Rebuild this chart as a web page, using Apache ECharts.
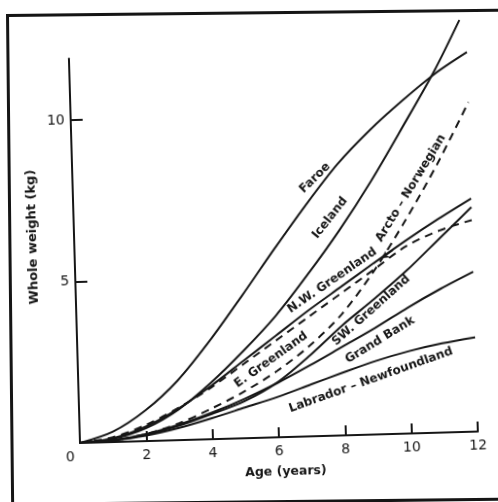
<!DOCTYPE html>
<html>
<head>
<meta charset="utf-8">
<script src="https://cdn.jsdelivr.net/npm/echarts@6/dist/echarts.min.js"></script>
<style>
  html, body { margin: 0; padding: 0; background: #fff; }
  #wrap { position: relative; width: 498px; height: 502px; overflow: hidden; background: #fff; }
  #frame { position: absolute; left: 6px; top: 14px; width: 540px; height: 492px;
           border: 3px solid #151515; box-sizing: border-box;
           transform-origin: 0 0; transform: rotate(-0.6deg); }
  #chart { position: absolute; left: 0; top: 0; width: 498px; height: 502px;
           transform-origin: 80px 443px; transform: rotate(-1.65deg); }
</style>
</head>
<body>
<div id="wrap"><div id="frame"></div><div id="chart"></div></div>
<script>
// Age in years
const ages = [0, 1, 2, 3, 4, 5, 6, 7, 8, 9, 10, 11, 12];
const icelandAges = [0, 1, 2, 3, 4, 5, 6, 7, 8, 9, 10, 11, 11.8];

// Whole weight (kg) at each age, by stock
const faroe      = [0, 0.32, 0.95, 1.85, 3.05, 4.40, 5.80, 7.15, 8.40, 9.42, 10.30, 11.10, 11.75];
const iceland    = [0, 0.10, 0.40, 0.95, 1.75, 2.70, 3.75, 5.00, 6.35, 7.85, 9.50, 11.20, 12.75];
const nwGreen    = [0, 0.12, 0.45, 0.98, 1.65, 2.40, 3.15, 3.90, 4.60, 5.30, 5.98, 6.62, 7.22];
const eGreen     = [0, 0.15, 0.50, 1.00, 1.60, 2.30, 3.00, 3.70, 4.40, 5.10, 5.80, 6.25, 6.55];
const arctoNorw  = [0, 0.05, 0.22, 0.52, 0.95, 1.45, 2.05, 2.80, 3.75, 5.05, 6.60, 8.30, 10.20];
const swGreen    = [0, 0.05, 0.20, 0.45, 0.78, 1.15, 1.70, 2.50, 3.40, 4.20, 5.05, 6.00, 6.95];
const grandBank  = [0, 0.06, 0.22, 0.48, 0.82, 1.22, 1.68, 2.20, 2.75, 3.30, 3.90, 4.45, 4.95];
const labrador   = [0, 0.05, 0.17, 0.38, 0.65, 0.95, 1.25, 1.60, 1.95, 2.28, 2.55, 2.76, 2.92];

// Tick values
const xTicks = [0, 2, 4, 6, 8, 10, 12];
const yTicks = [5, 10];

// Curve captions: text, age, weight, angle
const captionText  = ['Faroe', 'Iceland', 'Arcto – Norwegian', 'N.W. Greenland', 'E. Greenland',
                      'SW. Greenland', 'Grand Bank', 'Labrador – Newfoundland'];
const captionAge   = [7.31, 7.73, 10.19, 7.74, 5.83, 8.89, 9.13, 8.82];
const captionKg    = [7.99, 6.74, 7.59, 4.80, 2.40, 3.84, 2.92, 1.69];
const captionAngle = [43, 50, 57, 33, 34, 40, 30, 18];

// Pointer from the Arcto – Norwegian caption to its curve
const arrowFrom = [9.60, 5.69];
const arrowTo   = [9.26, 5.45];

const INK = '#161616';
const pairs = (xs, ys) => xs.map((x, i) => [x, ys[i]]);

function curve(name, xs, ys, dashed) {
  return {
    name: name, type: 'line', data: pairs(xs, ys), smooth: 0.3,
    showSymbol: false, clip: false, silent: true,
    itemStyle: { color: INK },
    lineStyle: { color: INK, width: 2, type: dashed ? [8, 6] : 'solid' }
  };
}

const arcto = curve('Arcto-Norwegian', ages, arctoNorw, true);
arcto.markLine = {
  silent: true, symbol: ['none', 'arrow'], symbolSize: [6, 7], label: { show: false },
  lineStyle: { color: INK, width: 1.5, type: 'solid' },
  data: [[{ coord: arrowFrom }, { coord: arrowTo }]]
};

const chart = echarts.init(document.getElementById('chart'), null, { renderer: 'canvas' });

chart.setOption({
  animation: false,
  backgroundColor: 'transparent',
  grid: { left: 80, right: 20, top: 58.6, bottom: 59, containLabel: false },
  xAxis: {
    type: 'value', min: 0, max: 12, interval: 2,
    name: 'Age (years)', nameLocation: 'middle', nameGap: 28,
    nameTextStyle: { fontFamily: 'DejaVu Sans', fontSize: 12.5, fontWeight: 'bold', color: INK, padding: [0, 0, 0, 12] },
    axisLine: { lineStyle: { color: INK, width: 2 } },
    axisTick: { inside: true, length: 10, lineStyle: { color: INK, width: 2 }, customValues: [2, 4, 6, 8, 10, 12] },
    axisLabel: {
      customValues: xTicks, margin: 7, fontFamily: 'DejaVu Sans', fontSize: 14, color: INK,
      formatter: v => v === 0 ? '{z|0}' : String(v),
      rich: { z: { fontFamily: 'DejaVu Sans', fontSize: 14, color: INK, padding: [0, 20, 0, 0] } }
    },
    splitLine: { show: false }
  },
  yAxis: {
    type: 'value', min: 0, max: 11.9, interval: 5,
    name: 'Whole weight (kg)', nameLocation: 'middle', nameRotate: 90, nameGap: 33,
    nameTextStyle: { fontFamily: 'DejaVu Sans', fontSize: 13, fontWeight: 'bold', color: INK, padding: [0, 0, 0, 30] },
    axisLine: { show: true, lineStyle: { color: INK, width: 2 } },
    axisTick: { show: true, inside: true, length: 12, lineStyle: { color: INK, width: 2 }, customValues: yTicks },
    axisLabel: { customValues: yTicks, margin: 6, fontFamily: 'DejaVu Sans', fontSize: 14, color: INK },
    splitLine: { show: false }
  },
  series: [
    curve('Faroe', ages, faroe, false),
    curve('Iceland', icelandAges, iceland, false),
    curve('N.W. Greenland', ages, nwGreen, false),
    curve('E. Greenland', ages, eGreen, true),
    arcto,
    curve('SW. Greenland', ages, swGreen, false),
    curve('Grand Bank', ages, grandBank, false),
    curve('Labrador-Newfoundland', ages, labrador, false),
    {
      name: 'captions', type: 'scatter', symbolSize: 0, silent: true, clip: false,
      itemStyle: { color: INK },
      data: captionText.map((t, i) => ({
        name: t, value: [captionAge[i], captionKg[i]],
        label: { rotate: captionAngle[i] }
      })),
      label: {
        show: true, position: 'inside', formatter: '{b}',
        fontFamily: 'DejaVu Sans', fontSize: 12, fontWeight: 'bold', color: INK,
        textBorderWidth: 0, textBorderColor: 'transparent', opacity: 1
      }
    }
  ]
});
</script>
</body>
</html>
